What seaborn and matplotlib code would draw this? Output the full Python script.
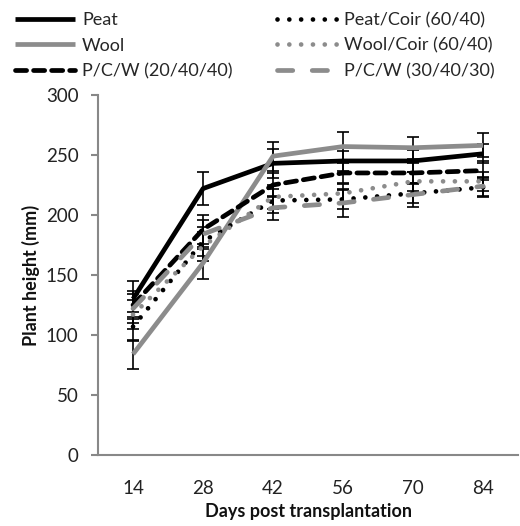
import matplotlib
matplotlib.use("Agg")
import matplotlib.pyplot as plt
import seaborn as sns
import numpy as np
import pandas as pd

days = ["14", "28", "42", "56", "70", "84"]
series_names = ["Peat", "Wool", "P/C/W (20/40/40)",
                "Peat/Coir (60/40)", "Wool/Coir (60/40)", "P/C/W (30/40/30)"]
peat = [130, 222, 243, 245, 245, 251]
wool = [84, 160, 249, 257, 256, 258]
pcw_20_40_40 = [125, 188, 225, 235, 235, 237]
peat_coir = [107, 178, 212, 213, 218, 223]
wool_coir = [117, 174, 215, 218, 228, 228]
pcw_30_40_30 = [122, 184, 206, 210, 217, 224]

peat_err = [15, 14, 12, 8, 9, 8]
wool_err = [12, 13, 12, 12, 9, 10]
pcw_20_40_40_err = [12, 12, 10, 8, 8, 8]
peat_coir_err = [12, 12, 10, 8, 8, 8]
wool_coir_err = [12, 12, 10, 8, 8, 8]
pcw_30_40_30_err = [12, 12, 10, 12, 10, 8]

values = [peat, wool, pcw_20_40_40, peat_coir, wool_coir, pcw_30_40_30]
errors = [peat_err, wool_err, pcw_20_40_40_err, peat_coir_err, wool_coir_err, pcw_30_40_30_err]

sns.set_theme(style="white")
plt.rcParams["font.family"] = ["Lato", "DejaVu Sans"]
plt.rcParams["lines.scale_dashes"] = False

BLACK = "#000000"
GRAY = "#8c8c8c"
styles = {
    "Peat": dict(color=BLACK, lw=3.4, dashes=None),
    "Wool": dict(color=GRAY, lw=3.4, dashes=None),
    "P/C/W (20/40/40)": dict(color=BLACK, lw=3.4, dashes=(8, 5)),
    "Peat/Coir (60/40)": dict(color=BLACK, lw=3.4, dashes=(0.01, 8.5)),
    "Wool/Coir (60/40)": dict(color=GRAY, lw=3.4, dashes=(0.01, 8.5)),
    "P/C/W (30/40/30)": dict(color=GRAY, lw=3.4, dashes=(11, 14)),
}

rows = []
for name, vals in zip(series_names, values):
    for i, (d, v) in enumerate(zip(days, vals)):
        rows.append(dict(series=name, pos=i, day=d, height=v))
df = pd.DataFrame(rows)

fig = plt.figure(figsize=(5.2, 5.26), dpi=100)
ax = fig.add_axes([0.1885, 0.135, 0.808, 0.6845])

for name, vals, errs in zip(series_names, values, errors):
    ax.errorbar(np.arange(len(days)), vals, yerr=errs, fmt="none",
                ecolor="black", elinewidth=1.2, capsize=4.5, capthick=1.2, zorder=2)

handles = []
for name in series_names:
    st = styles[name]
    sub = df[df.series == name]
    sns.lineplot(data=sub, x="pos", y="height", ax=ax, color=st["color"],
                 linewidth=st["lw"], label=name, zorder=3, legend=False)
    line = ax.lines[-1]
    if st["dashes"] is not None:
        line.set_dashes(st["dashes"])
    line.set_dash_capstyle("round")
    line.set_solid_capstyle("butt")
    line.set_solid_joinstyle("round")
    handles.append(line)

ax.set_xlim(-0.5, len(days) - 0.5)
ax.set_ylim(0, 300)
ax.set_yticks(np.arange(0, 301, 50))
ax.set_xticks(np.arange(len(days)))
ax.set_xticklabels(days)
ax.set_xticks(np.arange(-0.5, len(days)), minor=True)
ax.tick_params(axis="x", which="major", length=0, pad=18, labelsize=13.5, labelcolor="#222222")
ax.tick_params(axis="x", which="minor", length=5, width=1.5, color="#888888", direction="out")
ax.tick_params(axis="y", which="major", length=5, width=1.5, color="#888888", direction="out",
               labelsize=13.5, labelcolor="#222222", pad=9)
ax.tick_params(axis="y", left=True)
ax.tick_params(axis="x", bottom=True)

for s in ["top", "right"]:
    ax.spines[s].set_visible(False)
for s in ["left", "bottom"]:
    ax.spines[s].set_color("#888888")
    ax.spines[s].set_linewidth(1.5)

ax.set_xlabel("Days post transplantation", fontsize=13, fontweight="bold", labelpad=4, color="#111111")
ax.set_ylabel("Plant height (mm)", fontsize=13, fontweight="bold", labelpad=4, color="#111111")
ax.grid(False)

fs = 13
em = fs * 100 / 72.0
fig.legend(handles=handles, labels=series_names, ncol=2, loc="upper left",
           bbox_to_anchor=(15 / 520, 1 - 12 / 526), frameon=False, fontsize=fs,
           handlelength=60 / em, handletextpad=7 / em, columnspacing=44 / em,
           labelspacing=0.52, borderpad=0.0, borderaxespad=0.0)

fig.savefig("out.png", dpi=100)
